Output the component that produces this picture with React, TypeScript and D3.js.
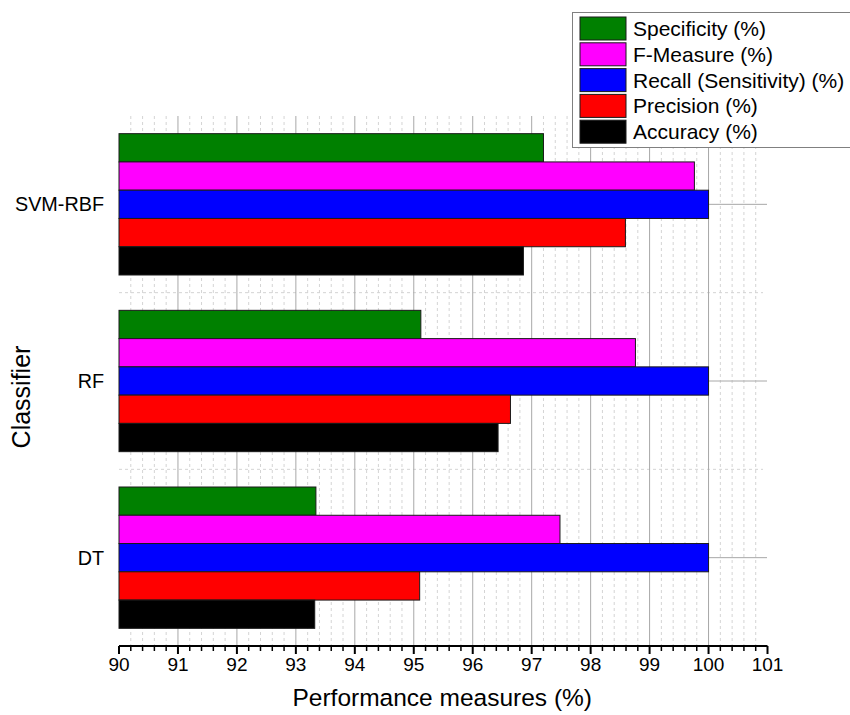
import * as d3 from "d3";
import React, { useRef, useEffect } from "react";

const classifiers = ["SVM-RBF", "RF", "DT"];
const measures = ["Specificity (%)", "F-Measure (%)", "Recall (Sensitivity) (%)", "Precision (%)", "Accuracy (%)"];
const colours = ["#008000", "#ff00ff", "#0000ff", "#ff0000", "#000000"];

// one array per measure, in classifier order
const specificity = [97.2, 95.12, 93.34];
const fMeasure = [99.76, 98.76, 97.48];
const recall = [100, 100, 100];
const precision = [98.59, 96.64, 95.1];
const accuracy = [96.86, 96.43, 93.32];

const xTicks = [90, 91, 92, 93, 94, 95, 96, 97, 98, 99, 100, 101];

const App = () => {
  const svgRef = useRef(null);
  const svgWidth = 850;
  const svgHeight = 715;

  useEffect(() => {
    const svg = d3.select(svgRef.current);
    svg.selectAll("*").remove();

    const series = [specificity, fMeasure, recall, precision, accuracy];
    const font = "Liberation Sans, Arial, sans-serif";

    const x = d3.scaleLinear().domain([90, 101]).range([119, 767.5]);
    const y = d3.scaleBand().domain(classifiers).range([116, 646]).paddingInner(0.2).paddingOuter(0.1);
    const inner = d3.scaleBand().domain(measures).range([0, y.bandwidth()]);

    const grid = svg.append("g");
    const minorVals = d3.range(90, 101.0001, 0.2).map((v) => +v.toFixed(1)).filter((v) => Math.abs(v - Math.round(v)) > 0.01);
    // minor vertical dashed
    grid.selectAll(".vminor").data(minorVals).enter().append("line")
      .attr("x1", (d) => x(d)).attr("x2", (d) => x(d))
      .attr("y1", 116).attr("y2", 646)
      .attr("stroke", "#d4d4d4").attr("stroke-dasharray", "3,3").attr("stroke-width", 1);
    // minor horizontal dashed between categories
    const bounds = [y("SVM-RBF") + y.bandwidth() + (y.step() - y.bandwidth()) / 2, y("RF") + y.bandwidth() + (y.step() - y.bandwidth()) / 2];
    grid.selectAll(".hminor").data(bounds).enter().append("line")
      .attr("x1", 119).attr("x2", 763)
      .attr("y1", (d) => d).attr("y2", (d) => d)
      .attr("stroke", "#d4d4d4").attr("stroke-dasharray", "3,3");
    // major vertical
    grid.selectAll(".vmajor").data(xTicks.filter((t) => t > 90 && t < 101)).enter().append("line")
      .attr("x1", (d) => x(d)).attr("x2", (d) => x(d))
      .attr("y1", 116).attr("y2", 646)
      .attr("stroke", "#a8a8a8").attr("stroke-width", 1);
    // major horizontal at category centres
    grid.selectAll(".hmajor").data(classifiers).enter().append("line")
      .attr("x1", 119).attr("x2", 767)
      .attr("y1", (d) => y(d) + y.bandwidth() / 2).attr("y2", (d) => y(d) + y.bandwidth() / 2)
      .attr("stroke", "#a8a8a8");

    // bars
    const groups = svg.append("g").selectAll("g").data(classifiers).enter().append("g")
      .attr("transform", (d) => "translate(0," + y(d) + ")");
    groups.selectAll("rect")
      .data((d, i) => measures.map((m, j) => ({ m, j, v: series[j][i] })))
      .enter().append("rect")
      .attr("x", x(90))
      .attr("y", (d) => inner(d.m))
      .attr("width", (d) => x(d.v) - x(90))
      .attr("height", inner.bandwidth())
      .attr("fill", (d) => colours[d.j])
      .attr("stroke", "#1a1a1a").attr("stroke-width", 1);

    // x axis
    const axisG = svg.append("g").attr("transform", "translate(0,646)");
    axisG.append("line").attr("x1", x(90)).attr("x2", x(101)).attr("stroke", "black").attr("stroke-width", 2);
    axisG.selectAll(".mt").data(minorVals).enter().append("line")
      .attr("x1", (d) => x(d)).attr("x2", (d) => x(d)).attr("y1", 0).attr("y2", 5)
      .attr("stroke", "black").attr("stroke-width", 1.5);
    axisG.selectAll(".Mt").data(xTicks).enter().append("line")
      .attr("x1", (d) => x(d)).attr("x2", (d) => x(d)).attr("y1", 0).attr("y2", 8)
      .attr("stroke", "black").attr("stroke-width", 2);
    axisG.selectAll("text").data(xTicks).enter().append("text")
      .attr("x", (d) => x(d)).attr("y", 25)
      .attr("text-anchor", "middle")
      .attr("font-family", font).attr("font-size", 19)
      .text((d) => d);

    svg.append("text").attr("x", x(95.5) - 1).attr("y", 706)
      .attr("text-anchor", "middle").attr("font-family", font).attr("font-size", 24.5)
      .text("Performance measures (%)");

    // y labels
    svg.append("g").selectAll("text").data(classifiers).enter().append("text")
      .attr("x", 104).attr("y", (d) => y(d) + y.bandwidth() / 2 + 7)
      .attr("text-anchor", "end").attr("font-family", font).attr("font-size", 19.8)
      .text((d) => d);
    svg.append("text")
      .attr("transform", "translate(30," + (y("RF") + y.bandwidth() / 2 + 16) + ") rotate(-90)")
      .attr("text-anchor", "middle").attr("font-family", font).attr("font-size", 25)
      .text("Classifier");

    // legend
    const leg = svg.append("g");
    leg.append("rect").attr("x", 572.5).attr("y", 12.5).attr("width", 290).attr("height", 135)
      .attr("fill", "white").attr("stroke", "#808080");
    const rows = leg.selectAll(".row").data(measures).enter().append("g")
      .attr("transform", (d, i) => "translate(580," + (17 + i * 25.8) + ")");
    rows.append("rect").attr("width", 46).attr("height", 23)
      .attr("fill", (d, i) => colours[i]).attr("stroke", "#1a1a1a");
    rows.append("text").attr("x", 53).attr("y", 19)
      .attr("font-family", font).attr("font-size", 21)
      .text((d) => d);
  }, []);

  return (
    <svg ref={svgRef} width={svgWidth} height={svgHeight}
      style={{ position: "absolute", left: 0, top: 0, background: "white" }} />
  );
};

export default App;
